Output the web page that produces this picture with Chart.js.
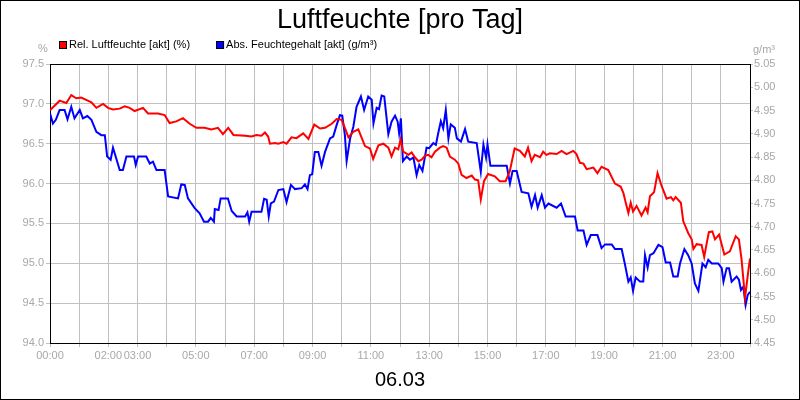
<!DOCTYPE html>
<html>
<head>
<meta charset="utf-8">
<title>Luftfeuchte [pro Tag]</title>
<script src="https://cdn.jsdelivr.net/npm/chart.js@4/dist/chart.umd.min.js"></script>
<style>
  body { margin: 0; background: #fff; }
  #contenedorGrafica { width: 800px; height: 400px; }
</style>
</head>
<body>
<div id="contenedorGrafica"><canvas id="grafica" width="800" height="400"></canvas></div>
<script>
var titel = 'Luftfeuchte [pro Tag]'
var datum = '06.03'

// Stunden-Ticks (nicht jede Stunde hat eine Beschriftung)
var xEtiketten = ['00:00', '', '02:00', '03:00', '', '05:00', '', '07:00', '', '09:00', '', '11:00', '',
                  '13:00', '', '15:00', '', '17:00', '', '19:00', '', '21:00', '', '23:00', '']

// Rel. Luftfeuchte (%) - Zeit in Stunden
var relZeit = [
    0, 0.33, 0.56, 0.73, 0.9, 1.07, 1.24, 1.42, 1.59, 1.82,
    1.99, 2.16, 2.39, 2.56, 2.73, 2.9, 3.19, 3.36, 3.7, 3.93,
    4.1, 4.33, 4.56, 4.79, 5.02, 5.3, 5.53, 5.76, 5.93, 6.11,
    6.29, 6.69, 6.91, 7.08, 7.25, 7.37, 7.48, 7.54, 7.71, 7.83,
    8.0, 8.11, 8.28, 8.45, 8.68, 8.86, 9.06, 9.26, 9.43, 9.66,
    9.83, 10.0, 10.11, 10.23, 10.4, 10.57, 10.8, 10.97, 11.08, 11.26,
    11.43, 11.6, 11.71, 11.83, 11.94, 12.02, 12.11, 12.29, 12.4, 12.51,
    12.63, 12.74, 12.86, 12.97, 13.08, 13.2, 13.37, 13.48, 13.6, 13.71,
    13.88, 14.0, 14.11, 14.28, 14.46, 14.57, 14.68, 14.77, 14.88, 15.02,
    15.25, 15.42, 15.62, 15.76, 15.93, 16.11, 16.28, 16.39, 16.51, 16.62,
    16.8, 16.91, 17.02, 17.14, 17.37, 17.54, 17.71, 17.94, 18.05, 18.17,
    18.29, 18.4, 18.63, 18.77, 18.91, 19.14, 19.37, 19.57, 19.66, 19.74,
    19.83, 19.91, 19.99, 20.11, 20.28, 20.42, 20.49, 20.57, 20.71, 20.83,
    20.97, 21.14, 21.29, 21.37, 21.45, 21.63, 21.71, 21.88, 22.0, 22.06,
    22.17, 22.34, 22.43, 22.51, 22.59, 22.71, 22.8, 22.94, 23.12, 23.31,
    23.51, 23.62, 23.71, 23.83, 23.92, 24.0
]
var relWerte = [
    96.92, 97.04, 97.01, 97.11, 97.07, 97.08, 97.05, 97.02, 96.95, 97.00,
    96.95, 96.93, 96.94, 96.97, 96.95, 96.91, 96.95, 96.88, 96.88, 96.86,
    96.76, 96.78, 96.82, 96.75, 96.70, 96.70, 96.68, 96.70, 96.62, 96.70,
    96.61, 96.60, 96.59, 96.61, 96.60, 96.64, 96.59, 96.50, 96.51, 96.50,
    96.52, 96.50, 96.58, 96.57, 96.63, 96.56, 96.74, 96.69, 96.70, 96.75,
    96.81, 96.80, 96.70, 96.58, 96.65, 96.68, 96.47, 96.44, 96.31, 96.48,
    96.50, 96.45, 96.34, 96.45, 96.43, 96.55, 96.40, 96.36, 96.39, 96.33,
    96.28, 96.30, 96.35, 96.36, 96.33, 96.40, 96.45, 96.47, 96.45, 96.34,
    96.30, 96.25, 96.11, 96.07, 96.10, 96.05, 96.04, 95.80, 96.03, 96.12,
    96.09, 96.03, 96.03, 96.15, 96.44, 96.41, 96.34, 96.45, 96.28, 96.36,
    96.33, 96.40, 96.36, 96.38, 96.37, 96.41, 96.37, 96.41, 96.37, 96.26,
    96.25, 96.18, 96.20, 96.13, 96.21, 96.17, 96.00, 95.96, 95.88, 95.76,
    95.63, 95.76, 95.65, 95.72, 95.60, 95.70, 95.64, 95.84, 95.89, 96.13,
    95.97, 95.81, 95.83, 95.79, 95.83, 95.76, 95.53, 95.38, 95.30, 95.18,
    95.24, 95.23, 95.08, 95.24, 95.39, 95.40, 95.30, 95.36, 95.11, 95.15,
    95.34, 95.30, 95.05, 94.57, 94.84, 95.06
]

// Abs. Feuchtegehalt (g/m³)
var absZeit = [
    0, 0.1, 0.2, 0.33, 0.5, 0.6, 0.73, 0.84, 1.02, 1.13,
    1.28, 1.42, 1.59, 1.76, 1.88, 1.96, 2.08, 2.16, 2.39, 2.5,
    2.62, 2.88, 2.94, 3.02, 3.3, 3.42, 3.53, 3.65, 3.93, 4.05,
    4.39, 4.5, 4.62, 4.73, 4.96, 5.13, 5.28, 5.42, 5.51, 5.62,
    5.65, 5.78, 5.85, 6.1, 6.23, 6.4, 6.69, 6.77, 6.83, 6.91,
    7.25, 7.34, 7.43, 7.5, 7.57, 7.68, 7.83, 8.0, 8.11, 8.26,
    8.4, 8.63, 8.74, 8.83, 8.91, 8.99, 9.08, 9.2, 9.31, 9.43,
    9.6, 9.71, 9.83, 9.94, 10.02, 10.11, 10.17, 10.29, 10.4, 10.51,
    10.66, 10.77, 10.91, 11.03, 11.09, 11.2, 11.28, 11.37, 11.46, 11.6,
    11.71, 11.83, 11.92, 11.97, 12.03, 12.1, 12.23, 12.34, 12.46, 12.57,
    12.66, 12.77, 12.91, 13.0, 13.14, 13.23, 13.31, 13.4, 13.48, 13.57,
    13.66, 13.74, 13.88, 13.95, 14.09, 14.23, 14.34, 14.63, 14.77, 14.86,
    14.95, 15.0, 15.1, 15.66, 15.77, 15.86, 16.0, 16.17, 16.4, 16.51,
    16.63, 16.72, 16.86, 16.97, 17.09, 17.37, 17.52, 17.68, 18.0, 18.09,
    18.29, 18.4, 18.54, 18.77, 18.91, 19.03, 19.26, 19.37, 19.6, 19.71,
    19.83, 19.91, 19.99, 20.08, 20.23, 20.34, 20.4, 20.49, 20.57, 20.69,
    20.86, 21.0, 21.11, 21.26, 21.37, 21.52, 21.6, 21.75, 21.88, 22.0,
    22.11, 22.23, 22.37, 22.48, 22.57, 22.69, 22.91, 23.03, 23.09, 23.2,
    23.28, 23.37, 23.54, 23.62, 23.69, 23.77, 23.85, 23.92, 24.0
]
var absWerte = [
    4.944, 4.922, 4.930, 4.951, 4.951, 4.931, 4.958, 4.933, 4.951, 4.933,
    4.938, 4.930, 4.904, 4.897, 4.897, 4.851, 4.844, 4.870, 4.822, 4.822,
    4.851, 4.851, 4.833, 4.851, 4.851, 4.836, 4.840, 4.822, 4.822, 4.765,
    4.761, 4.791, 4.790, 4.761, 4.740, 4.729, 4.711, 4.711, 4.719, 4.711,
    4.738, 4.736, 4.761, 4.761, 4.734, 4.722, 4.722, 4.731, 4.711, 4.732,
    4.732, 4.760, 4.758, 4.722, 4.750, 4.754, 4.779, 4.781, 4.753, 4.790,
    4.781, 4.783, 4.791, 4.781, 4.811, 4.813, 4.861, 4.861, 4.831, 4.861,
    4.890, 4.894, 4.919, 4.940, 4.939, 4.897, 4.841, 4.890, 4.915, 4.958,
    4.980, 4.951, 4.980, 4.973, 4.922, 4.956, 4.953, 4.982, 4.980, 4.899,
    4.926, 4.939, 4.926, 4.901, 4.933, 4.841, 4.851, 4.844, 4.849, 4.811,
    4.833, 4.820, 4.870, 4.869, 4.880, 4.876, 4.901, 4.927, 4.912, 4.951,
    4.890, 4.920, 4.913, 4.890, 4.883, 4.910, 4.883, 4.880, 4.818, 4.877,
    4.849, 4.877, 4.831, 4.831, 4.793, 4.820, 4.820, 4.775, 4.772, 4.743,
    4.768, 4.741, 4.768, 4.741, 4.750, 4.741, 4.750, 4.722, 4.722, 4.692,
    4.692, 4.661, 4.682, 4.682, 4.654, 4.662, 4.662, 4.652, 4.652, 4.620,
    4.582, 4.591, 4.562, 4.591, 4.582, 4.582, 4.639, 4.612, 4.639, 4.643,
    4.661, 4.656, 4.623, 4.623, 4.593, 4.593, 4.621, 4.652, 4.639, 4.621,
    4.578, 4.562, 4.621, 4.613, 4.629, 4.621, 4.621, 4.611, 4.582, 4.611,
    4.611, 4.582, 4.593, 4.586, 4.564, 4.571, 4.532, 4.553, 4.560
]

var fuente = '"Liberation Sans", Arial, sans-serif'
var grisTexto = '#a8a8a8'
var grisRejilla = '#c0c0c0'

function paares(xs, ys) {
    var puntos = []
    for (var i = 0; i < xs.length; i++) {
        puntos.push({ x: xs[i], y: ys[i] })
    }
    return puntos
}

// titulo, leyenda, unidades y marco
var decoracion = {
    id: 'decoracion',
    beforeDraw: function (chart) {
        var ctx = chart.ctx
        ctx.save()
        ctx.fillStyle = '#fff'
        ctx.fillRect(0, 0, chart.width, chart.height)
        ctx.restore()
    },
    beforeDatasetsDraw: function (chart) {
        var ctx = chart.ctx
        var a = chart.chartArea
        ctx.save()
        ctx.strokeStyle = '#000'
        ctx.lineWidth = 1
        ctx.strokeRect(Math.round(a.left) + 0.5, Math.round(a.top) + 0.5,
                       Math.round(a.right - a.left), Math.round(a.bottom - a.top))
        ctx.restore()
    },
    afterDraw: function (chart) {
        var ctx = chart.ctx
        ctx.save()
        ctx.fillStyle = '#000'
        ctx.textAlign = 'center'
        ctx.textBaseline = 'alphabetic'
        ctx.font = '27px ' + fuente
        ctx.fillText(titel, 400, 28)

        // leyenda
        ctx.font = '11px ' + fuente
        ctx.textAlign = 'left'
        ctx.textBaseline = 'middle'
        var x = 59
        chart.data.datasets.forEach(function (ds) {
            ctx.fillStyle = ds.borderColor
            ctx.fillRect(x, 41, 8, 8)
            ctx.strokeStyle = '#000'
            ctx.lineWidth = 1
            ctx.strokeRect(x + 0.5, 41.5, 7, 7)
            ctx.fillStyle = '#000'
            ctx.fillText(ds.label, x + 10, 45)
            x = x + 10 + ctx.measureText(ds.label).width + 26
        })

        // unidades
        ctx.fillStyle = grisTexto
        ctx.textAlign = 'center'
        ctx.fillText('%', 43, 49)
        ctx.textAlign = 'left'
        ctx.fillText('g/m³', 753, 50)

        // marco exterior
        ctx.strokeStyle = '#000'
        ctx.strokeRect(0.5, 0.5, chart.width - 1, chart.height - 1)
        ctx.restore()
    }
}

function generarGrafica() {
    var graf = new Chart('grafica', {
        type: 'line',
        data: {
            datasets: [{
                label: 'Rel. Luftfeuchte [akt] (%)',
                data: paares(relZeit, relWerte),
                borderColor: '#ff0000',
                borderWidth: 2,
                pointRadius: 0,
                fill: false,
                yAxisID: 'y'
            }, {
                label: 'Abs. Feuchtegehalt [akt] (g/m³)',
                data: paares(absZeit, absWerte),
                borderColor: '#0000ff',
                borderWidth: 2,
                pointRadius: 0,
                fill: false,
                yAxisID: 'y2'
            }]
        },
        options: {
            responsive: false,
            animation: false,
            devicePixelRatio: 1,
            layout: { padding: { top: 64, left: 0, right: 0, bottom: 0 } },
            plugins: {
                legend: { display: false },
                title: { display: false },
                tooltip: { enabled: false }
            },
            scales: {
                x: {
                    type: 'linear',
                    min: 0,
                    max: 24,
                    afterFit: function (escala) { escala.height = 57 },
                    grid: { color: grisRejilla, tickLength: 4 },
                    border: { color: '#000' },
                    ticks: {
                        stepSize: 1,
                        autoSkip: false,
                        maxRotation: 0,
                        padding: 2,
                        color: grisTexto,
                        font: { family: fuente, size: 11 },
                        callback: function (v) { return xEtiketten[v] }
                    },
                    title: {
                        display: true,
                        text: datum,
                        color: '#000',
                        font: { family: fuente, size: 20 },
                        padding: { top: 0, bottom: 8 }
                    }
                },
                y: {
                    position: 'left',
                    min: 94,
                    max: 97.5,
                    afterFit: function (escala) { escala.width = 50 },
                    grid: { color: grisRejilla, tickLength: 4 },
                    border: { color: '#000' },
                    ticks: {
                        stepSize: 0.5,
                        padding: 2,
                        color: grisTexto,
                        font: { family: fuente, size: 11 },
                        callback: function (v) { return v.toFixed(1) }
                    }
                },
                y2: {
                    position: 'right',
                    min: 4.45,
                    max: 5.05,
                    afterFit: function (escala) { escala.width = 50 },
                    grid: { drawOnChartArea: false, color: grisRejilla, tickLength: 3 },
                    border: { color: '#000' },
                    ticks: {
                        stepSize: 0.05,
                        padding: 1,
                        color: grisTexto,
                        font: { family: fuente, size: 11 },
                        callback: function (v) { return v.toFixed(2) }
                    }
                }
            }
        },
        plugins: [decoracion]
    })
    return graf
}

generarGrafica()
</script>
</body>
</html>
